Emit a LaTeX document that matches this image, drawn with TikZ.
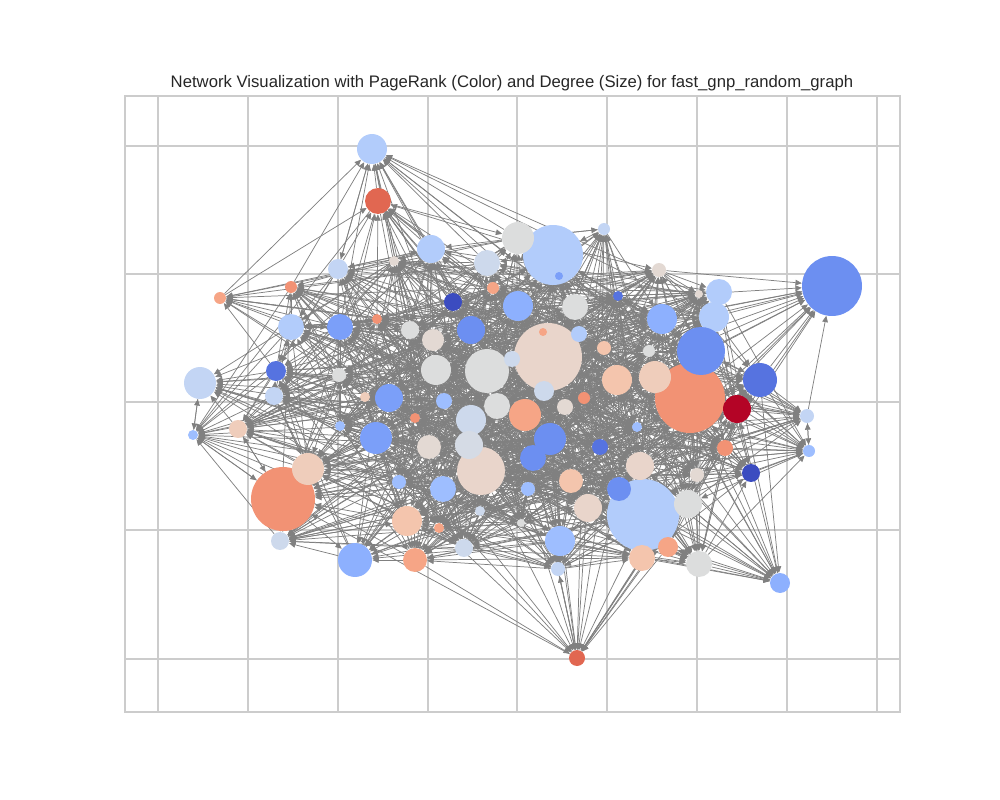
\documentclass[tikz,border=0pt]{standalone}
\usepackage{fontspec}
\setmainfont{Liberation Sans}
\usetikzlibrary{arrows.meta}

\definecolor{cwA}{HTML}{3B4CC0}
\definecolor{cwC}{HTML}{5673E0}
\definecolor{cwD}{HTML}{6C8FF1}
\definecolor{cwE}{HTML}{7B9FF9}
\definecolor{cwF}{HTML}{8DB0FE}
\definecolor{cwG}{HTML}{9EBEFF}
\definecolor{cwH}{HTML}{B2CCFB}
\definecolor{cwI}{HTML}{C3D5F4}
\definecolor{cwJ}{HTML}{CDD9EC}
\definecolor{cwJK}{HTML}{D5DBE5}
\definecolor{cwK}{HTML}{DCDDDD}
\definecolor{cwL}{HTML}{E3D9D3}
\definecolor{cwM}{HTML}{E9D5CB}
\definecolor{cwMa}{HTML}{EFCDBB}
\definecolor{cwN}{HTML}{F4C5AD}
\definecolor{cwO}{HTML}{F6A586}
\definecolor{cwP}{HTML}{F29274}
\definecolor{cwQ}{HTML}{E16751}
\definecolor{cwR}{HTML}{B40426}
\definecolor{edgegray}{HTML}{808080}
\definecolor{gridgray}{HTML}{CCCCCC}
\definecolor{titlegray}{HTML}{262626}

\tikzset{
  vertex/.style={circle, inner sep=0pt, draw=none, minimum size=#1},
  link/.style={draw=edgegray, line width=0.42pt, -{Triangle[length=3.6pt, width=3.2pt]}},
  gridline/.style={draw=gridgray, line width=0.6pt},
  frame/.style={draw=gridgray, line width=0.9pt},
}

\pgfdeclarelayer{gridlayer}
\pgfdeclarelayer{edgelayer}
\pgfsetlayers{gridlayer,edgelayer,main}

\def\px#1{\csname nx#1\endcsname}
\def\py#1{\csname ny#1\endcsname}
\def\pr#1{\csname nr#1\endcsname}

\begin{document}
\begin{tikzpicture}[x=0.02cm, y=-0.02cm]
\useasboundingbox (0,0) rectangle (1000,800);

% axes frame and grid
\begin{pgfonlayer}{gridlayer}
\foreach \gx in {158,248,338,428,517,607,697,787,877}
  \draw[gridline] (\gx,96) -- (\gx,712);
\foreach \gy in {146,274,402,530,659}
  \draw[gridline] (125,\gy) -- (900,\gy);
\draw[frame] (125,96) rectangle (900,712);
\end{pgfonlayer}

\node (title) [anchor=base, text=titlegray, font=\fontsize{9.5}{11}\selectfont] at (512,88)
  {Network Visualization with PageRank (Color) and Degree (Size) for fast\_gnp\_random\_graph};

% vertices: index/x/y/radius/colour (big ones first)
\foreach \k/\x/\y/\r/\c in {
  72/643/515/36/cwH, 43/690/398/35/cwP, 35/548/357/34/cwM, 87/283/499/32/cwP,
  5/553/255/30/cwH, 24/832/286/30/cwD, 62/481/471/24/cwM, 32/487/371/22/cwK,
  1/372/149/15/cwH, 2/378/201/13/cwQ, 3/431/249/14/cwH, 4/518/238/16/cwK,
  6/604/229/6/cwI, 7/659/270/7/cwL, 8/487/263/13/cwJ, 9/394/261/5/cwL,
  10/338/269/10/cwI, 11/291/287/6/cwP, 12/220/298/6/cwO, 13/453/302/9/cwA,
  14/493/288/6/cwO, 15/518/306/15/cwF, 16/575/307/13/cwK, 17/618/296/5/cwC,
  18/662/319/15/cwF, 19/719/292/13/cwH, 20/714/317/15/cwH, 21/699/294/4/cwL,
  22/701/351/24/cwD, 23/760/380/17/cwC, 25/291/327/13/cwH, 26/340/327/13/cwE,
  27/377/319/5/cwP, 28/410/330/9/cwK, 29/433/340/11/cwL, 30/471/330/14/cwD,
  31/436/370/15/cwK, 33/276/371/10/cwC, 34/339/375/7/cwK, 36/512/359/8/cwJ,
  37/579/334/8/cwH, 38/604/348/7/cwN, 39/649/351/6/cwK, 40/544/391/10/cwJ,
  41/617/380/15/cwN, 42/655/377/16/cwMa, 44/737/409/14/cwR, 45/200/383/16/cwI,
  46/193/435/5/cwG, 47/238/429/9/cwMa, 48/274/396/9/cwI, 49/365/397/5/cwMa,
  50/389/398/14/cwE, 51/444/401/8/cwG, 52/415/418/5/cwP, 53/340/426/5/cwG,
  54/376/438/16/cwE, 55/429/447/12/cwL, 56/471/420/15/cwJ, 57/469/445/14/cwJK,
  58/497/406/13/cwK, 59/525/415/16/cwO, 60/565/407/8/cwL, 61/584/398/6/cwP,
  63/550/439/16/cwD, 64/533/458/13/cwD, 65/600/447/8/cwC, 66/637/427/5/cwG,
  67/640/466/14/cwM, 68/571/481/12/cwN, 69/528/489/7/cwG, 70/588/508/14/cwM,
  71/619/489/12/cwD, 73/697/475/7/cwL, 74/725/448/8/cwP, 75/751/473/9/cwA,
  76/688/504/14/cwK, 77/668/547/10/cwO, 78/642/558/13/cwN, 79/699/564/13/cwK,
  80/780/583/10/cwF, 81/807/416/7/cwI, 82/809/451/6/cwG, 83/577/658/8/cwQ,
  84/558/569/7/cwI, 85/560/541/15/cwG, 86/521/523/4/cwK, 88/308/469/16/cwMa,
  89/280/541/9/cwJ, 90/399/482/7/cwG, 91/443/489/13/cwG, 92/407/521/15/cwN,
  93/439/528/5/cwO, 94/480/511/5/cwJ, 95/355/560/17/cwF, 96/415/560/12/cwO,
  97/464/548/9/cwJ, 98/559/276/4/cwE, 99/543/332/4/cwO, 100/692/425/4/cwP} {
  \node (n\k) [vertex=\r*0.04cm, fill=\c] at (\x,\y) {};
  \pgfmathsetmacro\rad{veclen(\x-515,\y-405)}
  \expandafter\xdef\csname nx\k\endcsname{\x}
  \expandafter\xdef\csname ny\k\endcsname{\y}
  \expandafter\xdef\csname nr\k\endcsname{\rad}
}

% directed links, denser between close vertices
\pgfmathsetseed{4711}
\begin{pgfonlayer}{edgelayer}
\foreach \i in {1,...,100} {
  \foreach \j in {1,...,100} {
    \ifnum\i=\j\relax\else
      \pgfmathtruncatemacro\hit{rnd < 0.5*exp(-veclen(\px{\i}-\px{\j},\py{\i}-\py{\j})/180)*ifthenelse(\pr{\j}>\pr{\i},1.7,0.35)}
      \ifnum\hit=1 \draw[link] (n\i) -- (n\j);\fi
    \fi
  }
}
\end{pgfonlayer}

\end{tikzpicture}
\end{document}
